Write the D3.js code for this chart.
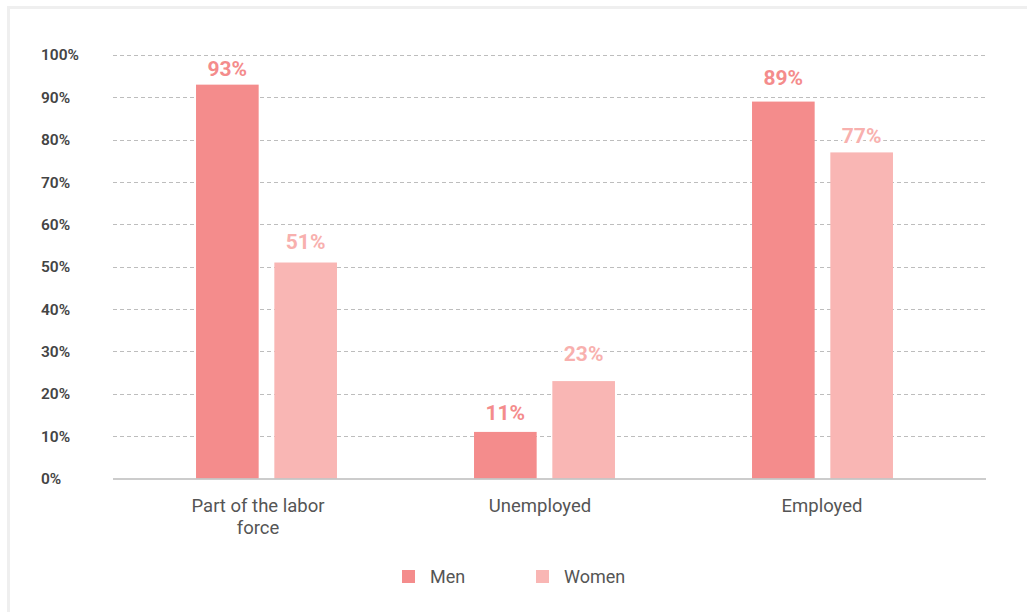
<!DOCTYPE html>
<html>
<head>
<meta charset="utf-8">
<script src="https://cdn.jsdelivr.net/npm/d3@7"></script>
<style>
  html, body { margin: 0; padding: 0; background: #fff; }
  svg { display: block; font-family: Roboto, "Noto Sans", sans-serif; }
</style>
</head>
<body>
<svg id="chart" width="1027" height="612"></svg>
<script>
// Labour market status by sex
const categories = ["Part of the labor force", "Unemployed", "Employed"];
const categoryLines = [["Part of the labor", "force"], ["Unemployed"], ["Employed"]];
const seriesNames = ["Men", "Women"];
const menValues = [93, 11, 89];
const womenValues = [51, 23, 77];
const yTicks = [0, 10, 20, 30, 40, 50, 60, 70, 80, 90, 100];

const colors = { Men: "#F48C8C", Women: "#F9B6B4" };
const labelColors = { Men: "#F48C8C", Women: "#F8B0AE" };

const svg = d3.select("#chart");
const W = 1027, H = 612;

// card outline
svg.append("rect")
  .attr("x", 8.5).attr("y", 7.5)
  .attr("width", W + 20).attr("height", H + 20)
  .attr("fill", "#fff")
  .attr("stroke", "#efefef")
  .attr("stroke-width", 3);

const plot = { left: 113, right: 986, top: 55, bottom: 478.5 };

const y = d3.scaleLinear().domain([0, 100]).range([plot.bottom, plot.top]);
const x0 = d3.scaleBand().domain(categories).range([127.5, 961.5]).paddingInner(0.493).paddingOuter(0.2465);
const x1 = d3.scaleBand().domain(seriesNames).range([0, x0.bandwidth()]).paddingInner(0.2).paddingOuter(0);
// category label positions along the axis
const xLabel = d3.scalePoint().domain(categories).range([258, 822]);

// horizontal grid
const grid = svg.append("g");
grid.selectAll("line")
  .data(yTicks.filter(t => t > 0))
  .join("line")
  .attr("x1", plot.left).attr("x2", plot.right)
  .attr("y1", d => Math.round(y(d)) + 0.5).attr("y2", d => Math.round(y(d)) + 0.5)
  .attr("stroke", "#bdbdbd")
  .attr("stroke-width", 1)
  .attr("stroke-dasharray", "4,3");

// y tick labels
const yAxis = d3.axisLeft(y).tickValues(yTicks).tickFormat(d => d + "%").tickSize(0);
const yg = svg.append("g").attr("transform", `translate(41,0)`).call(yAxis);
yg.select(".domain").remove();
yg.selectAll("text")
  .attr("x", 0)
  .attr("text-anchor", "start")
  .attr("fill", "#444")
  .style("font-size", "15.5px")
  .style("font-weight", "600")
  .style("font-family", "Roboto, sans-serif");

// bars
const rows = categories.map((c, i) => ({
  category: c,
  values: [{ s: "Men", v: menValues[i], i }, { s: "Women", v: womenValues[i], i }]
}));

// extra lift (px) for individual value labels above their bars
const labelLift = { Men: [0, 3, 8], Women: [5, 11, 0] };

const groups = svg.append("g").selectAll("g")
  .data(rows)
  .join("g")
  .attr("transform", d => `translate(${x0(d.category)},0)`);

groups.selectAll("rect")
  .data(d => d.values)
  .join("rect")
  .attr("x", d => x1(d.s))
  .attr("width", x1.bandwidth())
  .attr("y", d => y(d.v))
  .attr("height", d => y(0) - y(d.v))
  .attr("fill", d => colors[d.s]);

groups.selectAll("text.val")
  .data(d => d.values)
  .join("text")
  .attr("class", "val")
  .attr("x", d => x1(d.s) + x1.bandwidth() / 2)
  .attr("y", d => y(d.v) - 9 - labelLift[d.s][d.i])
  .attr("text-anchor", "middle")
  .attr("fill", d => labelColors[d.s])
  .attr("stroke", "#fff")
  .attr("stroke-width", 5)
  .attr("stroke-linejoin", "round")
  .style("paint-order", "stroke")
  .style("font-size", "21px")
  .style("font-weight", "700")
  .text(d => d.v + "%");

// baseline
svg.append("line")
  .attr("x1", plot.left).attr("x2", plot.right)
  .attr("y1", y(0) + 0.5).attr("y2", y(0) + 0.5)
  .attr("stroke", "#bbbbbb")
  .attr("stroke-width", 1.5);

// category labels
const xg = svg.append("g").attr("transform", `translate(0,${y(0)})`);
xg.selectAll("text")
  .data(categories)
  .join("text")
  .attr("transform", d => `translate(${xLabel(d)},0)`)
  .attr("text-anchor", "middle")
  .attr("fill", "#555")
  .style("font-size", "18.5px")
  .each(function(d, i) {
    categoryLines[i].forEach((line, j) => {
      d3.select(this).append("tspan").attr("x", 0).attr("y", 33 + j * 22).text(line);
    });
  });

// legend
const legendItems = [{ s: "Men", x: 402 }, { s: "Women", x: 536 }];
const legend = svg.append("g").attr("transform", "translate(0,570)");
legendItems.forEach(it => {
  legend.append("rect").attr("x", it.x).attr("y", 0).attr("width", 13).attr("height", 13).attr("fill", colors[it.s]);
  legend.append("text").attr("x", it.x + 28).attr("y", 13)
    .attr("fill", "#555").style("font-size", "18px").text(it.s);
});
</script>
</body>
</html>
